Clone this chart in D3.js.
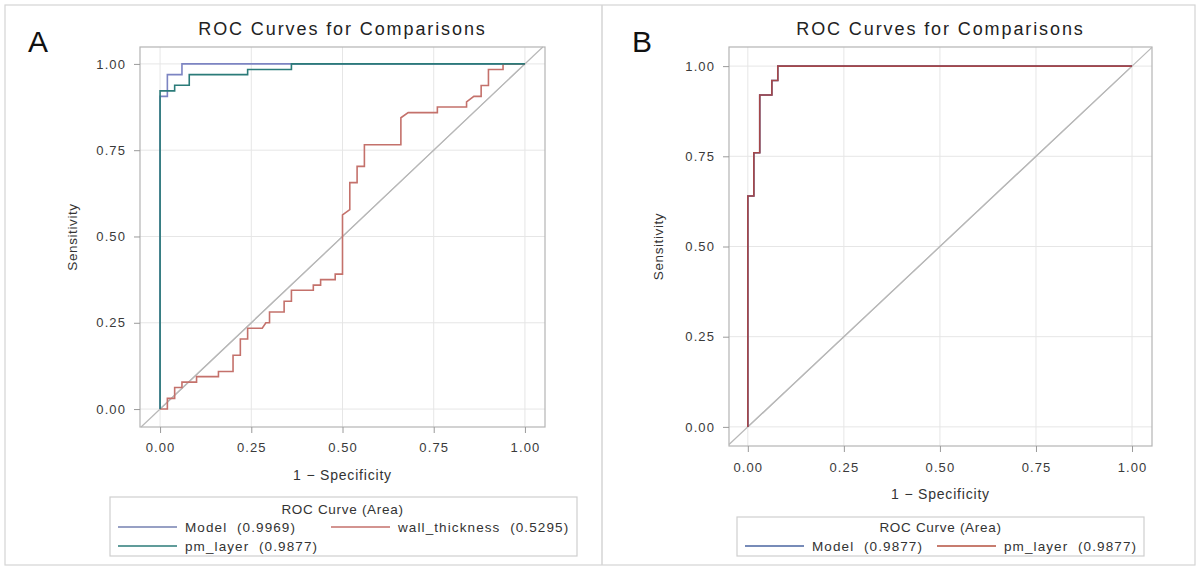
<!DOCTYPE html>
<html>
<head>
<meta charset="utf-8">
<script src="https://cdn.jsdelivr.net/npm/d3@7"></script>
<style>
  html, body { margin: 0; padding: 0; background: #fff; }
  svg text { font-family: Arial, "Liberation Sans", sans-serif; white-space: pre; }
</style>
</head>
<body>
<svg id="chart" width="1198" height="567"></svg>
<script>
// ---------------- data ----------------
const tickValues = [0, 0.25, 0.5, 0.75, 1];
const chartTitle = "ROC Curves for Comparisons";
const xTitle = "1 \u2212 Specificity";
const yTitle = "Sensitivity";
const legendTitle = "ROC Curve (Area)";

// Panel A
const modelA_fpr  = [0, 0, 0.02, 0.02, 0.06, 0.06, 1];
const modelA_sens = [0, 0.906, 0.906, 0.969, 0.969, 1, 1];
const pmA_fpr  = [0, 0, 0.04, 0.04, 0.08, 0.08, 0.24, 0.24, 0.36, 0.36, 1];
const pmA_sens = [0, 0.922, 0.922, 0.938, 0.938, 0.969, 0.969, 0.984, 0.984, 1, 1];
const wallA_fpr  = [0, 0.02, 0.02, 0.04, 0.04, 0.06, 0.06, 0.10, 0.10, 0.16, 0.16, 0.20, 0.20, 0.22, 0.22, 0.24, 0.24, 0.28, 0.29, 0.30, 0.30, 0.34, 0.34, 0.36, 0.36, 0.42, 0.42, 0.44, 0.44, 0.48, 0.48, 0.50, 0.50, 0.52, 0.52, 0.54, 0.54, 0.56, 0.56, 0.66, 0.66, 0.68, 0.76, 0.76, 0.84, 0.84, 0.86, 0.88, 0.88, 0.90, 0.90, 0.94, 0.94, 1];
const wallA_sens = [0, 0, 0.031, 0.031, 0.0625, 0.0625, 0.078, 0.078, 0.094, 0.094, 0.109, 0.109, 0.156, 0.156, 0.203, 0.203, 0.234, 0.234, 0.25, 0.25, 0.281, 0.281, 0.3125, 0.3125, 0.344, 0.344, 0.359, 0.359, 0.375, 0.375, 0.391, 0.391, 0.5625, 0.578, 0.656, 0.656, 0.703, 0.703, 0.766, 0.766, 0.844, 0.859, 0.859, 0.875, 0.875, 0.89, 0.906, 0.906, 0.9375, 0.9375, 0.984, 0.984, 1, 1];
const seriesA_names = ["Model", "wall_thickness", "pm_layer"];
const seriesA_areas = ["0.9969", "0.5295", "0.9877"];

// Panel B
const modelB_fpr  = [0, 0, 0.0156, 0.0156, 0.031, 0.031, 0.0625, 0.0625, 0.078, 0.078, 1];
const modelB_sens = [0, 0.64, 0.64, 0.76, 0.76, 0.92, 0.92, 0.96, 0.96, 1, 1];
const pmB_fpr  = [0, 0, 0.0156, 0.0156, 0.031, 0.031, 0.0625, 0.0625, 0.078, 0.078, 1];
const pmB_sens = [0, 0.64, 0.64, 0.76, 0.76, 0.92, 0.92, 0.96, 0.96, 1, 1];
const seriesB_names = ["Model", "pm_layer"];
const seriesB_areas = ["0.9877", "0.9877"];

// ---------------- layout / style ----------------
const zip = (xs, ys) => xs.map((x, i) => [x, ys[i]]);
const svg = d3.select("#chart");

// outer borders
svg.append("rect").attr("x", 5).attr("y", 5).attr("width", 1190).attr("height", 560)
  .attr("fill", "none").attr("stroke", "#d4d4d4").attr("stroke-width", 1.2);
svg.append("line").attr("x1", 602).attr("x2", 602).attr("y1", 5).attr("y2", 565)
  .attr("stroke", "#d4d4d4").attr("stroke-width", 1.5);

const panels = [
  {
    letter: "A", letterX: 28,
    frame: { x0: 140, x1: 545, y0: 47, y1: 427 },
    xDom: [-0.055, 1.055], yDom: [-0.052, 1.049],
    xLabY: 452, xTitleY: 480, yTitleX: 77,
    series: [
      { pts: zip(modelA_fpr, modelA_sens), color: "#7c84c2" },
      { pts: zip(wallA_fpr, wallA_sens), color: "#c4716b" },
      { pts: zip(pmA_fpr, pmA_sens), color: "#2b7b79" }
    ],
    legend: {
      box: { x: 110, y: 497, w: 467, h: 59 }, titleY: 514,
      items: [
        { name: seriesA_names[0], area: seriesA_areas[0], color: "#7480b0", lx: 118, ly: 527 },
        { name: seriesA_names[1], area: seriesA_areas[1], color: "#c4716b", lx: 331, ly: 527 },
        { name: seriesA_names[2], area: seriesA_areas[2], color: "#2b7b79", lx: 118, ly: 546 }
      ]
    }
  },
  {
    letter: "B", letterX: 632,
    frame: { x0: 729, x1: 1152, y0: 47, y1: 446 },
    xDom: [-0.049, 1.052], yDom: [-0.053, 1.053],
    xLabY: 471.5, xTitleY: 499, yTitleX: 663,
    series: [
      { pts: zip(modelB_fpr, modelB_sens), color: "#445694" },
      { pts: zip(pmB_fpr, pmB_sens), color: "#a5474a" }
    ],
    legend: {
      box: { x: 737, y: 517, w: 407, h: 39 }, titleY: 532,
      items: [
        { name: seriesB_names[0], area: seriesB_areas[0], color: "#4a64a0", lx: 745, ly: 546 },
        { name: seriesB_names[1], area: seriesB_areas[1], color: "#b4503f", lx: 937, ly: 546 }
      ]
    }
  }
];

const fmt = d3.format(".2f");

panels.forEach(p => {
  const f = p.frame;
  const x = d3.scaleLinear().domain(p.xDom).range([f.x0, f.x1]);
  const y = d3.scaleLinear().domain(p.yDom).range([f.y1, f.y0]);
  const g = svg.append("g");
  const cx = (f.x0 + f.x1) / 2;

  // panel letter
  g.append("text").attr("x", p.letterX).attr("y", 52)
    .attr("font-family", "'Noto Sans CJK KR', 'Noto Sans', sans-serif")
    .attr("font-weight", 300).attr("font-size", 30).attr("fill", "#111").text(p.letter);

  // title
  g.append("text").attr("x", cx).attr("y", 35).attr("text-anchor", "middle")
    .attr("font-size", 18).attr("letter-spacing", "1.9px").attr("fill", "#222").text(chartTitle);

  // grid
  g.selectAll(".gx").data(tickValues).join("line")
    .attr("x1", d => x(d)).attr("x2", d => x(d)).attr("y1", f.y0).attr("y2", f.y1)
    .attr("stroke", "#e6e6e6").attr("stroke-width", 1);
  g.selectAll(".gy").data(tickValues).join("line")
    .attr("y1", d => y(d)).attr("y2", d => y(d)).attr("x1", f.x0).attr("x2", f.x1)
    .attr("stroke", "#e6e6e6").attr("stroke-width", 1);

  // frame
  g.append("rect").attr("x", f.x0).attr("y", f.y0).attr("width", f.x1 - f.x0).attr("height", f.y1 - f.y0)
    .attr("fill", "none").attr("stroke", "#b4b4b4").attr("stroke-width", 1.2);

  // axes
  const xAxis = g.append("g").attr("transform", `translate(0,${f.y1})`)
    .call(d3.axisBottom(x).tickValues(tickValues).tickFormat(fmt).tickSize(6).tickPadding(0));
  const yAxis = g.append("g").attr("transform", `translate(${f.x0},0)`)
    .call(d3.axisLeft(y).tickValues(tickValues).tickFormat(fmt).tickSize(6).tickPadding(8));
  [xAxis, yAxis].forEach(a => {
    a.select(".domain").remove();
    a.selectAll(".tick line").attr("stroke", "#9a9a9a");
    a.selectAll(".tick text").attr("font-family", "Arial, 'Liberation Sans', sans-serif")
      .attr("font-size", 13).attr("letter-spacing", "1.1px").attr("fill", "#3a3a3a");
  });
  xAxis.selectAll(".tick text").attr("dy", null).attr("y", p.xLabY - f.y1);

  // axis titles
  g.append("text").attr("x", cx).attr("y", p.xTitleY).attr("text-anchor", "middle")
    .attr("font-size", 14).attr("letter-spacing", "0.8px").attr("fill", "#333").text(xTitle);
  g.append("text").attr("transform", `translate(${p.yTitleX},${(f.y0 + f.y1) / 2}) rotate(-90)`)
    .attr("text-anchor", "middle").attr("font-size", 13.5).attr("letter-spacing", "0.6px")
    .attr("fill", "#333").text(yTitle);

  // diagonal reference
  g.append("line").attr("x1", x(0)).attr("y1", y(0)).attr("x2", x(1)).attr("y2", y(1))
    .attr("stroke", "#b8b8b8").attr("stroke-width", 1.2);
  // extend diagonal to frame edges
  g.append("line").attr("x1", x(p.xDom[0] > p.yDom[0] ? p.xDom[0] : p.yDom[0]))
    .attr("y1", y(p.xDom[0] > p.yDom[0] ? p.xDom[0] : p.yDom[0]))
    .attr("x2", x(Math.min(p.xDom[1], p.yDom[1]))).attr("y2", y(Math.min(p.xDom[1], p.yDom[1])))
    .attr("stroke", "#b8b8b8").attr("stroke-width", 1.2);

  // curves
  const line = d3.line().x(d => x(d[0])).y(d => y(d[1]));
  p.series.forEach(s => {
    g.append("path").attr("d", line(s.pts)).attr("fill", "none")
      .attr("stroke", s.color).attr("stroke-width", 1.6);
  });

  // legend
  const L = p.legend;
  g.append("rect").attr("x", L.box.x).attr("y", L.box.y).attr("width", L.box.w).attr("height", L.box.h)
    .attr("fill", "none").attr("stroke", "#cfcfcf").attr("stroke-width", 1.2);
  g.append("text").attr("x", cx).attr("y", L.titleY).attr("text-anchor", "middle")
    .attr("font-size", 13.5).attr("letter-spacing", "0.7px").attr("fill", "#333").text(legendTitle);
  L.items.forEach(it => {
    g.append("line").attr("x1", it.lx).attr("x2", it.lx + 59).attr("y1", it.ly).attr("y2", it.ly)
      .attr("stroke", it.color).attr("stroke-width", 1.6);
    g.append("text").attr("x", it.lx + 67).attr("y", it.ly + 5)
      .attr("font-size", 13.5).attr("letter-spacing", "1.1px").attr("fill", "#333")
      .text(`${it.name}  (${it.area})`);
  });
});
</script>
</body>
</html>
